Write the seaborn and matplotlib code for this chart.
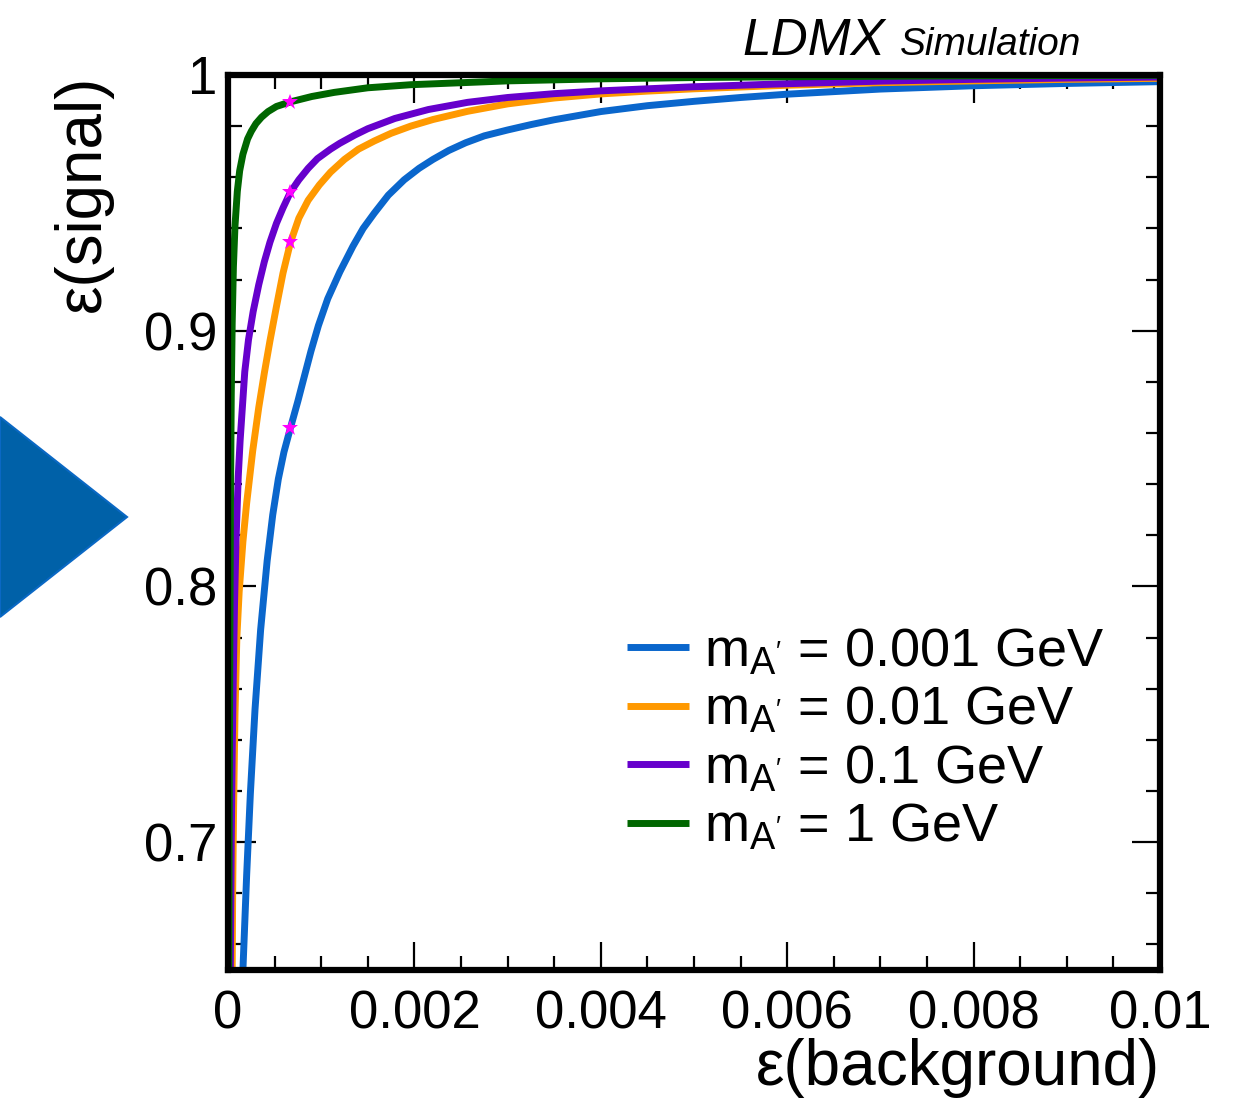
import numpy as np
import pandas as pd
import seaborn as sns
import matplotlib
matplotlib.use("Agg")
import matplotlib.pyplot as plt
from matplotlib.ticker import MultipleLocator, FuncFormatter
from matplotlib.patches import Polygon

# ROC curves: signal efficiency vs background efficiency for each A' mass
mass_labels = ["0.001", "0.01", "0.1", "1"]
line_colors = ["#0a66cc", "#ff9900", "#6600cc", "#006600"]

bkg_eff_m0001 = [0.000160, 0.000200, 0.000240, 0.000290, 0.000350, 0.000420, 0.000480,
                 0.000540, 0.000600, 0.000670, 0.000750, 0.000800, 0.000890, 0.000970,
                 0.001070, 0.001200, 0.001340, 0.001450, 0.001570, 0.001720, 0.001890,
                 0.002050, 0.002200, 0.002370, 0.002550, 0.002750, 0.003000, 0.003250,
                 0.003500, 0.004000, 0.004500, 0.005000, 0.005500, 0.006000, 0.007000,
                 0.008000, 0.009000, 0.010000]
sig_eff_m0001 = [0.650, 0.687, 0.719, 0.752, 0.783, 0.810, 0.828,
                 0.842, 0.8525, 0.862, 0.8725, 0.8795, 0.892, 0.902,
                 0.9125, 0.923, 0.933, 0.940, 0.946, 0.953, 0.959,
                 0.9635, 0.967, 0.9705, 0.9735, 0.9762, 0.9785, 0.9806,
                 0.9825, 0.9857, 0.9880, 0.9897, 0.9912, 0.9925, 0.9945,
                 0.9958, 0.9967, 0.9974]

bkg_eff_m001 = [0.000045, 0.000050, 0.000060, 0.000075, 0.000095, 0.000120, 0.000160,
                0.000200, 0.000265, 0.000330, 0.000390, 0.000450, 0.000520, 0.000590,
                0.000670, 0.000760, 0.000860, 0.000980, 0.001100, 0.001250, 0.001400,
                0.001570, 0.001750, 0.001960, 0.002200, 0.002570, 0.003000, 0.003500,
                0.004000, 0.004500, 0.005000, 0.006000, 0.007000, 0.008000, 0.009000,
                0.010000]
sig_eff_m001 = [0.650, 0.680, 0.713, 0.750, 0.780, 0.798, 0.8175,
                0.8325, 0.853, 0.870, 0.8835, 0.896, 0.9095, 0.9225,
                0.9345, 0.944, 0.951, 0.957, 0.962, 0.967, 0.971,
                0.9742, 0.9772, 0.9800, 0.9826, 0.9858, 0.9887, 0.9910,
                0.9926, 0.9937, 0.9946, 0.9960, 0.9970, 0.9977, 0.9983,
                0.9987]

bkg_eff_m01 = [0.000025, 0.000035, 0.000045, 0.000057, 0.000070, 0.000086, 0.000110,
               0.000130, 0.000180, 0.000220, 0.000270, 0.000330, 0.000390, 0.000450,
               0.000520, 0.000590, 0.000670, 0.000760, 0.000860, 0.000960, 0.001100,
               0.001200, 0.001360, 0.001500, 0.001790, 0.002150, 0.002570, 0.003000,
               0.003500, 0.004000, 0.005000, 0.006000, 0.007000, 0.008000, 0.009000,
               0.010000]
sig_eff_m01 = [0.650, 0.700, 0.735, 0.765, 0.793, 0.818, 0.843,
               0.857, 0.884, 0.8965, 0.9075, 0.918, 0.927, 0.9346,
               0.942, 0.948, 0.9542, 0.959, 0.9635, 0.9673, 0.9710,
               0.9733, 0.9765, 0.9790, 0.9830, 0.9865, 0.9893, 0.9912,
               0.9927, 0.9938, 0.9954, 0.9966, 0.9976, 0.9983, 0.9988,
               0.9992]

bkg_eff_m1 = [0.000008, 0.000014, 0.000020, 0.000027, 0.000035, 0.000045, 0.000058,
              0.000075, 0.000100, 0.000125, 0.000160, 0.000210, 0.000250, 0.000300,
              0.000360, 0.000430, 0.000520, 0.000670, 0.000900, 0.001140, 0.001500,
              0.001960, 0.003000, 0.004000, 0.005000, 0.006000, 0.008000, 0.010000]
sig_eff_m1 = [0.650, 0.720, 0.780, 0.835, 0.875, 0.903, 0.925,
              0.941, 0.9545, 0.9625, 0.969, 0.975, 0.978, 0.981,
              0.9835, 0.9857, 0.9877, 0.9895, 0.9916, 0.9932, 0.9950,
              0.9962, 0.9977, 0.9985, 0.9990, 0.9993, 0.9997, 0.9999]

# working points (stars)
wp_bkg_eff = [0.00067, 0.00067, 0.00067, 0.00067]
wp_sig_eff = [0.862, 0.9345, 0.9542, 0.9895]

x_ticks = [0, 0.002, 0.004, 0.006, 0.008, 0.01]
y_ticks = [0.7, 0.8, 0.9, 1.0]

curves = [(bkg_eff_m0001, sig_eff_m0001), (bkg_eff_m001, sig_eff_m001),
          (bkg_eff_m01, sig_eff_m01), (bkg_eff_m1, sig_eff_m1)]

legend_labels = [r"m$_{\mathregular{A'}}$ = %s GeV" % m for m in mass_labels]
frames = []
for lab, (bx, sy) in zip(legend_labels, curves):
    frames.append(pd.DataFrame({"bkg": bx, "sig": sy, "mass": lab}))
df = pd.concat(frames, ignore_index=True)
palette = dict(zip(legend_labels, line_colors))

sns.set_theme(style="ticks")
plt.rcParams["font.family"] = ["Liberation Sans", "DejaVu Sans"]
plt.rcParams["mathtext.fontset"] = "custom"
plt.rcParams["mathtext.rm"] = "Liberation Sans"
plt.rcParams["mathtext.it"] = "Liberation Sans:italic"
plt.rcParams["text.color"] = "black"
plt.rcParams["axes.labelcolor"] = "black"
plt.rcParams["xtick.color"] = "black"
plt.rcParams["ytick.color"] = "black"
plt.rcParams["lines.solid_capstyle"] = "butt"

fig = plt.figure(figsize=(12.44, 10.99), dpi=100)
ax = fig.add_axes([228 / 1244, 1 - 970 / 1099, 932 / 1244, 895 / 1099])

sns.lineplot(data=df, x="bkg", y="sig", hue="mass", palette=palette,
             hue_order=legend_labels, estimator=None, sort=False,
             linewidth=5, ax=ax, legend=True)

ax.plot(wp_bkg_eff, wp_sig_eff, linestyle="none", marker="*", markersize=12,
        color="#ff00ff", markeredgewidth=0, zorder=5)

ax.set_xlim(0, 0.01)
ax.set_ylim(0.65, 1.0)
ax.set_xticks(x_ticks)
ax.set_yticks(y_ticks)
ax.xaxis.set_minor_locator(MultipleLocator(0.0005))
ax.yaxis.set_minor_locator(MultipleLocator(0.02))
fmt = FuncFormatter(lambda v, p: "%g" % round(v, 6))
ax.xaxis.set_major_formatter(fmt)
ax.yaxis.set_major_formatter(fmt)

for s in ax.spines.values():
    s.set_linewidth(4.5)
    s.set_color("black")
    s.set_zorder(10)

ax.tick_params(which="both", direction="in", top=True, right=True, colors="black")
ax.tick_params(which="major", length=20, width=1.6, labelsize=38)
ax.tick_params(which="minor", length=10, width=1.6)
ax.tick_params(axis="x", which="major", pad=14)
ax.tick_params(axis="y", which="major", pad=8)

ax.set_xlabel("ε(background)", fontsize=46, loc="right")
ax.xaxis.label.set_verticalalignment("baseline")
ax.xaxis.set_label_coords(1.0, -0.129)
ax.set_ylabel("ε(signal)", fontsize=46, loc="top")
ax.yaxis.set_label_coords(-0.124, 1.0)

leg = ax.legend(loc="center left", bbox_to_anchor=(0.428, 0.257), frameon=False,
                fontsize=39, handlelength=1.15, handletextpad=0.28,
                labelspacing=0.15, borderpad=0, borderaxespad=0)
for h in leg.get_lines():
    h.set_linewidth(5)

fig.text(742 / 1244, 1 - 55 / 1099, "LDMX", fontsize=37, style="italic",
         ha="left", va="baseline")
fig.text(900 / 1244, 1 - 55 / 1099, "Simulation", fontsize=28, style="italic",
         ha="left", va="baseline")

# arrow-head marker on the left edge
tri = Polygon([(0, 1 - 417 / 1099), (127 / 1244, 1 - 517 / 1099), (0, 1 - 617 / 1099)],
              closed=True, transform=fig.transFigure, facecolor="#0061a8",
              edgecolor="#0a68c4", linewidth=1.5)
fig.patches.append(tri)

fig.savefig("out.png", dpi=100)
